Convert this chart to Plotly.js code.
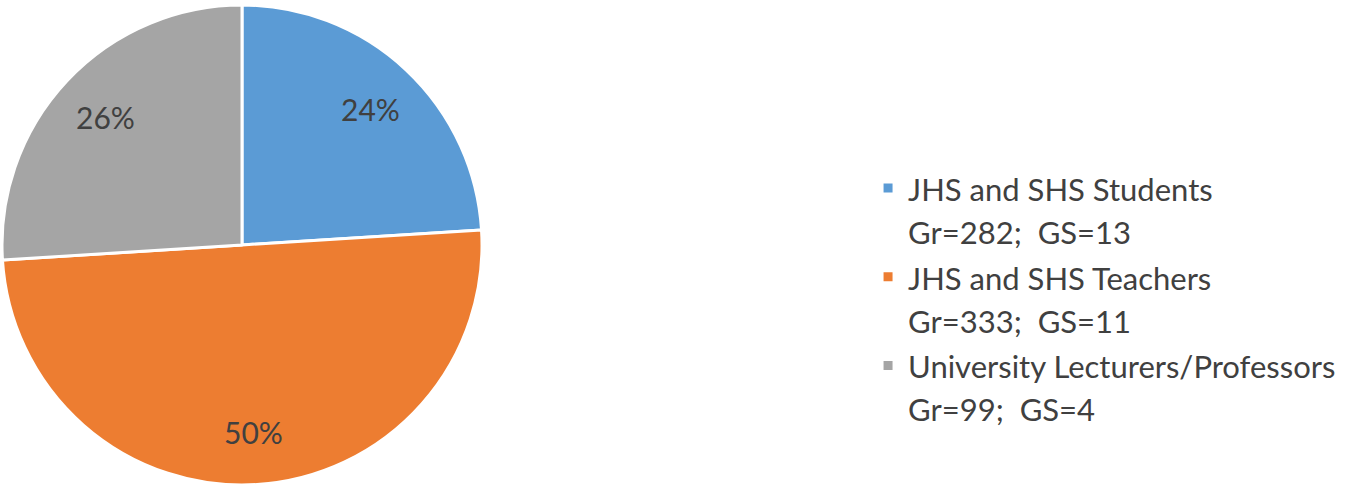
<!DOCTYPE html>
<html><head><meta charset="utf-8">
<script src="https://cdn.plot.ly/plotly-3.0.1.min.js"></script>
<style>html,body{margin:0;padding:0;background:#fff}#chart{width:1350px;height:496px}</style>
</head><body><div id="chart"></div>
<script>
const categories = ["JHS and SHS Students", "JHS and SHS Teachers", "University Lecturers/Professors"];
const subLabels = ["Gr=282;  GS=13", "Gr=333;  GS=11", "Gr=99;  GS=4"];
const percentValues = [24, 50, 26];
const colors = ["#5B9BD5", "#ED7D31", "#A5A5A5"];

const legendLabels = categories.map((c, i) =>
  "<span style='font-size:31px'>" + c + "</span><br><span style='font-size:31px'>" + subLabels[i] + "</span>");

// pie geometry (paper coordinates of the pie domain)
const W = 1350, H = 496;
const dom = {x: [2/W, 482/W], y: [11/H, 491/H]};

const trace = {
  type: "pie",
  labels: legendLabels,
  values: percentValues,
  sort: false,
  direction: "clockwise",
  rotation: 0,
  marker: {colors: colors, line: {color: "#ffffff", width: 3}},
  textinfo: "none",
  hoverinfo: "none",
  domain: dom
};

// percentage labels placed at the mid-angle of each slice, computed from the values
const total = percentValues.reduce((a, b) => a + b, 0);
const cx = (dom.x[0] + dom.x[1]) / 2 * W;
const cy = (1 - (dom.y[0] + dom.y[1]) / 2) * H;
const R = Math.min((dom.x[1] - dom.x[0]) * W, (dom.y[1] - dom.y[0]) * H) / 2;
let cum = 0;
const annotations = percentValues.map(v => {
  const mid = (cum + v / 2) / total * 2 * Math.PI;
  cum += v;
  const r = 0.78 * R;
  return {
    x: (cx + r * Math.sin(mid)) / W,
    y: 1 - (cy - r * Math.cos(mid)) / H,
    xref: "paper", yref: "paper",
    text: Math.round(v / total * 100) + "%",
    showarrow: false,
    font: {family: "Lato, sans-serif", size: 30, color: "#404040"},
    xanchor: "center", yanchor: "middle"
  };
});

const layout = {
  width: W, height: H,
  margin: {l: 0, r: 0, t: 0, b: 0},
  paper_bgcolor: "#ffffff",
  showlegend: true,
  annotations: annotations,
  legend: {
    x: 0.643, y: 1 - 160 / H, xanchor: "left", yanchor: "top",
    valign: "top",
    font: {family: "Lato, sans-serif", size: 33, color: "#404040"},
    bgcolor: "rgba(0,0,0,0)"
  }
};

Plotly.newPlot("chart", [trace], layout, {displayModeBar: false, staticPlot: true});
</script></body></html>
